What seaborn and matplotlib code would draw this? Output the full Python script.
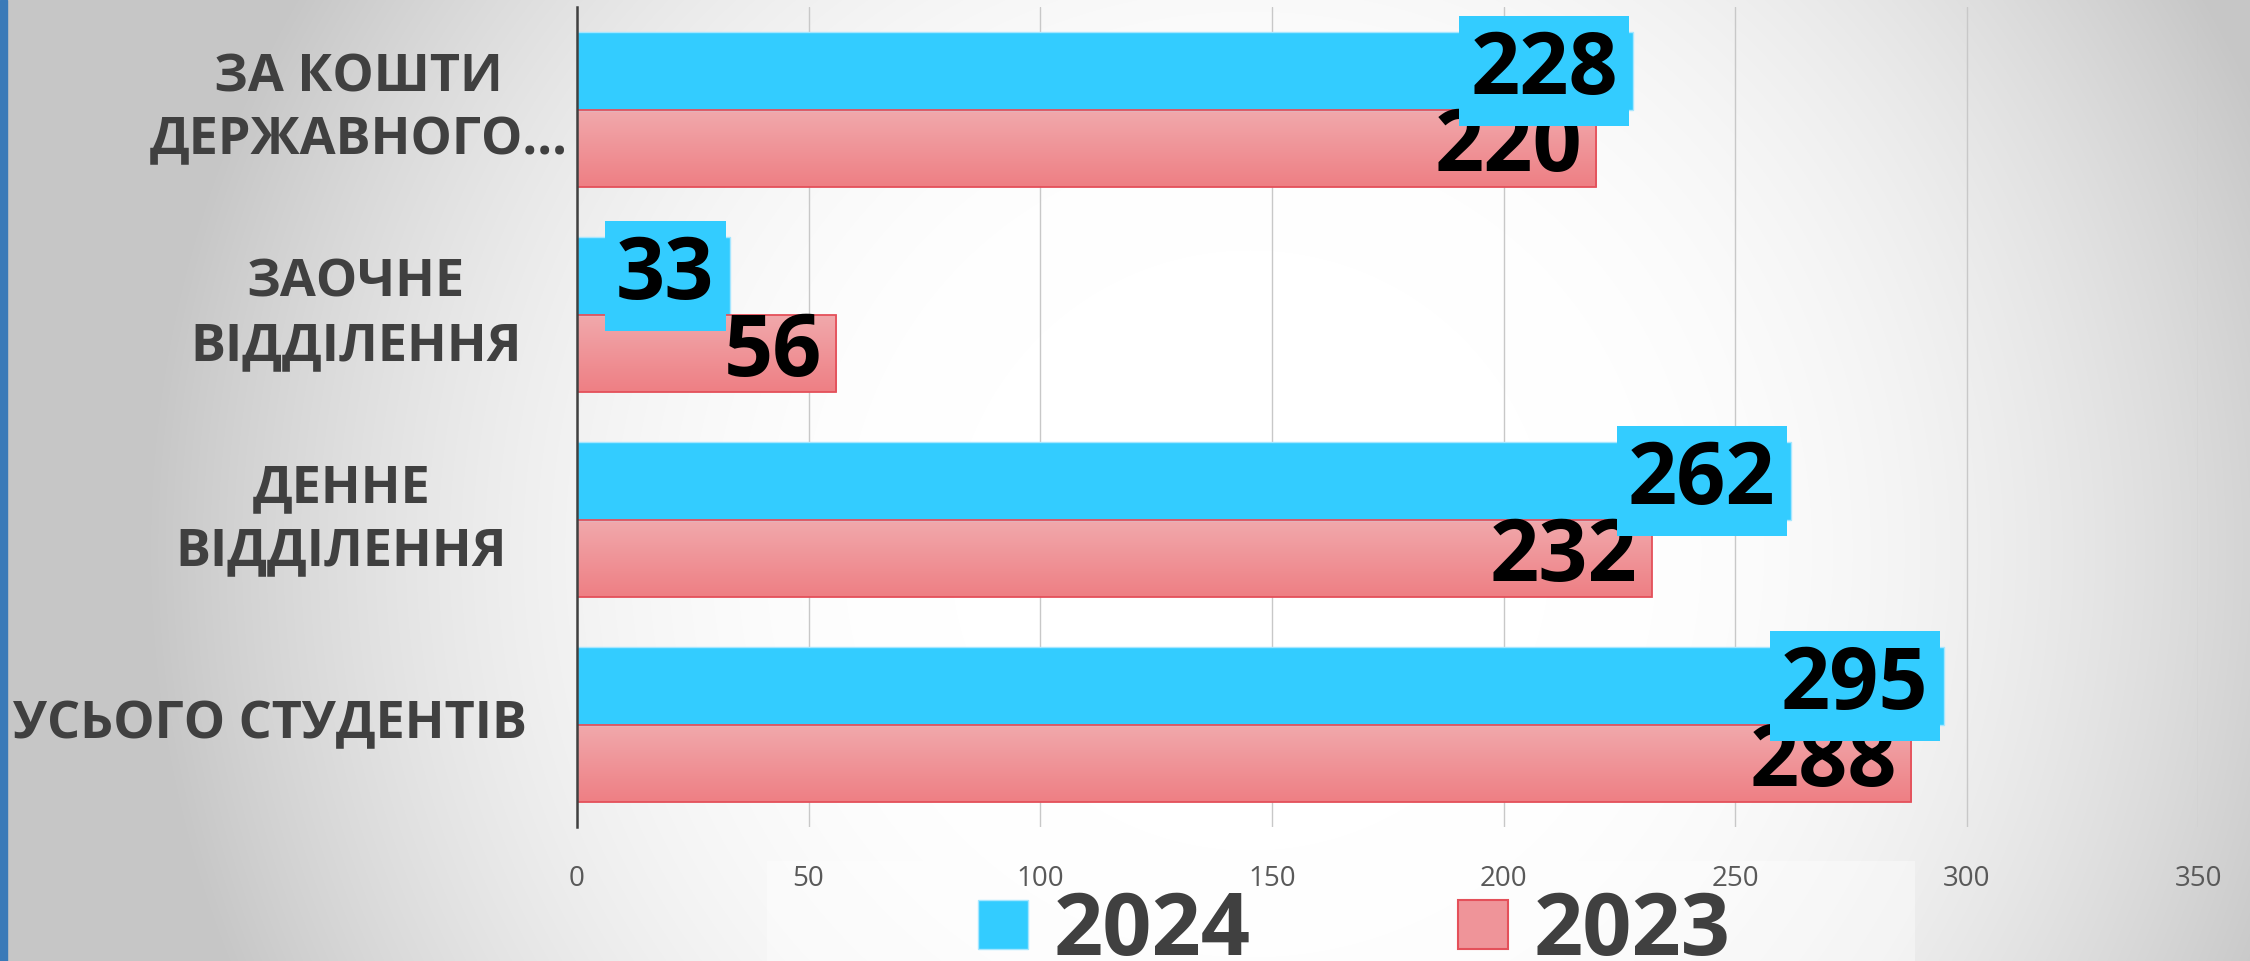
import numpy as np
import pandas as pd
import matplotlib
matplotlib.use('Agg')
import matplotlib.pyplot as plt
import matplotlib.transforms as mtransforms
from matplotlib.patches import Patch, Rectangle
import seaborn as sns

# data
categories = ['ЗА КОШТИ\nДЕРЖАВНОГО...', 'ЗАОЧНЕ\nВІДДІЛЕННЯ', 'ДЕННЕ\nВІДДІЛЕННЯ', 'УСЬОГО СТУДЕНТІВ']
students_2024 = [228, 33, 262, 295]
students_2023 = [220, 56, 232, 288]
years = ['2024', '2023']
x_ticks = [0, 50, 100, 150, 200, 250, 300, 350]

# where each category label is centred (axes fraction, left of the axis)
label_centres = [-0.1345, -0.1363, -0.1451, -0.1894]

blue = '#33CCFF'
red_top = np.array([241, 169, 172]) / 255
red_bottom = np.array([238, 127, 132]) / 255
dark = '#404040'

df = pd.DataFrame({
    'category': categories * 2,
    'value': students_2024 + students_2023,
    'year': [years[0]] * len(categories) + [years[1]] * len(categories),
})

sns.set_style('white')
plt.rcParams['font.family'] = ['Open Sans', 'DejaVu Sans']

fig = plt.figure(figsize=(22.5, 9.61), dpi=100)

# radial grey background
bg = fig.add_axes([0, 0, 1, 1], zorder=-2)
bg.axis('off')
H, W = 961, 2250
yy, xx = np.mgrid[0:H, 0:W]
d = np.hypot(xx - 1250, yy - 550)
t = np.clip((d - 300) / 800, 0, 1) ** 2
shade = 1 - 0.22 * t
bg.imshow(np.dstack([shade] * 3), aspect='auto', extent=(0, 1, 0, 1))
bg.set_xlim(0, 1)
bg.set_ylim(0, 1)

fig.add_artist(Rectangle((0, 0), 7 / W, 1, transform=fig.transFigure,
                         color='#3A7AB8', zorder=-1))
fig.add_artist(Rectangle((0.341, 0), 0.51, 0.104, transform=fig.transFigure,
                         facecolor='white', alpha=0.4, edgecolor='none', zorder=-1))

ax = fig.add_axes([0.2564, 0.139, 0.7207, 0.8535])
ax.set_facecolor('none')

sns.barplot(data=df, y='category', x='value', hue='year', hue_order=years,
            palette={years[0]: blue, years[1]: '#EF9499'}, orient='h',
            width=0.755, saturation=1, legend=False, ax=ax)

blue_bars, red_bars = ax.containers[0], ax.containers[1]
for p in blue_bars:
    p.set_edgecolor('#A6E6FF')
    p.set_linewidth(1)
    p.set_zorder(3)

grad = np.linspace(0, 1, 64)[:, None, None]
grad_img = red_top * (1 - grad) + red_bottom * grad
for p in red_bars:
    p.set_facecolor('none')
    p.set_edgecolor('#E4505A')
    p.set_linewidth(1.3)
    p.set_zorder(3)
    x0, y0 = p.get_x(), p.get_y()
    x1, y1 = x0 + p.get_width(), y0 + p.get_height()
    im = ax.imshow(grad_img, extent=(x0, x1, y1, y0), origin='upper',
                   aspect='auto', zorder=2.9)
    im.set_clip_path(p)

# value labels: 2023 plain, 2024 on a blue box drawn over them
label_font = dict(fontsize=62, fontweight='bold', color='black')
for p, v in zip(red_bars, students_2023):
    ax.annotate(str(v), (p.get_x() + p.get_width(), p.get_y() + p.get_height() / 2),
                xytext=(-10, 0), textcoords='offset points', ha='right', va='center',
                zorder=5, **label_font)
for p, v in zip(blue_bars, students_2024):
    ax.annotate(str(v), (p.get_x() + p.get_width(), p.get_y() + p.get_height() / 2),
                xytext=(-11, 0), textcoords='offset points', ha='right', va='center',
                zorder=6, bbox=dict(boxstyle='square,pad=0.13', fc=blue, ec='none'),
                **label_font)

ax.set_xlim(0, 350)
ax.set_ylim(len(categories) - 0.5, -0.5)
ax.set_xticks(x_ticks)
ax.set_xticklabels([str(v) for v in x_ticks])
ax.tick_params(axis='x', length=0, pad=27, labelsize=20, labelcolor='#595959')
ax.tick_params(axis='y', left=False, labelleft=False)
ax.set_xlabel('')
ax.set_ylabel('')
ax.grid(axis='x', color='#C8C8C8', linewidth=1)
ax.set_axisbelow(True)
for s in ['top', 'right', 'bottom']:
    ax.spines[s].set_visible(False)
ax.spines['left'].set_color(dark)
ax.spines['left'].set_linewidth(1.8)
ax.spines['left'].set_zorder(7)

trans = mtransforms.blended_transform_factory(ax.transAxes, ax.transData)
for pos, lab, cx in zip(ax.get_yticks(), categories, label_centres):
    ax.text(cx, pos, lab, transform=trans, ha='center', va='center',
            multialignment='center', fontsize=37.5, fontweight='bold',
            color=dark, linespacing=1.25, clip_on=False)

handles = [Patch(facecolor=blue, edgecolor='#A6E6FF'),
           Patch(facecolor='#EF9499', edgecolor='#E4505A', linewidth=1.5)]
fig.legend(handles, years, loc='center', bbox_to_anchor=(0.602, 0.03), ncol=2,
           frameon=False, prop=dict(family='Open Sans', weight='bold', size=62),
           labelcolor=dark, handlelength=0.58, handleheight=0.5,
           handletextpad=0.3, columnspacing=2.4, borderpad=0, borderaxespad=0)

fig.savefig('out.png', dpi=100)
